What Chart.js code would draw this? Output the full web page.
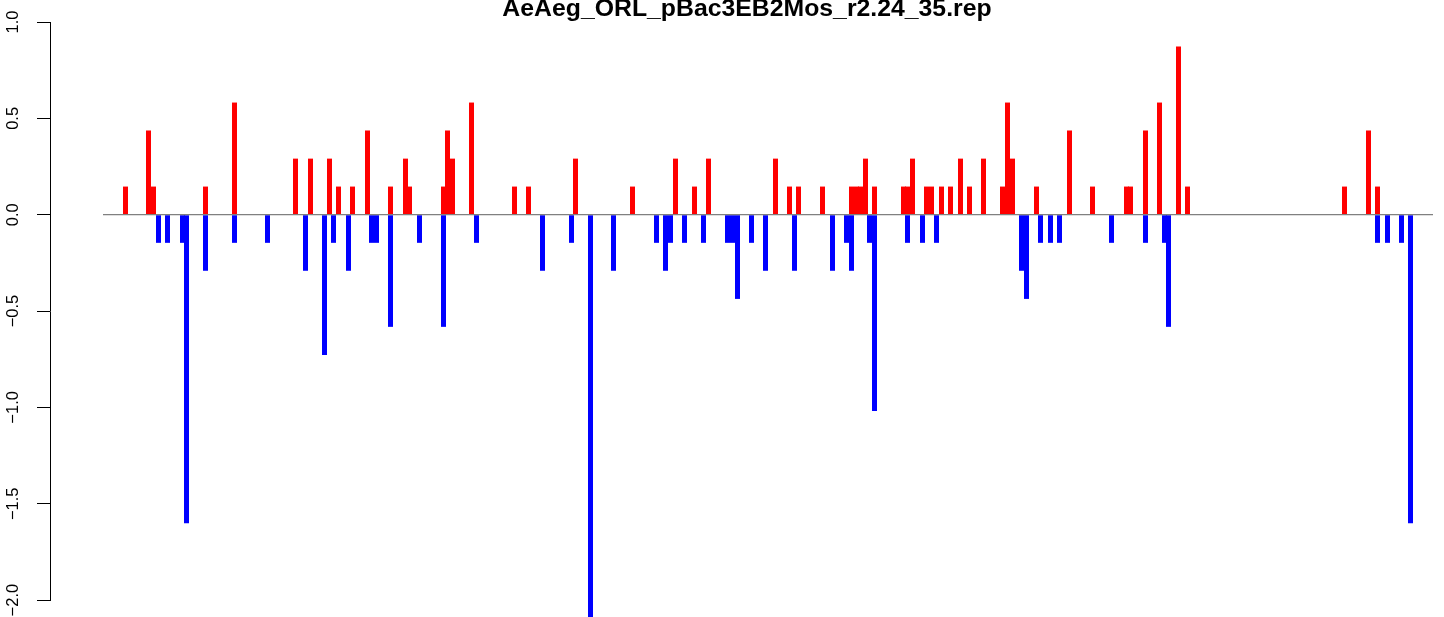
<!DOCTYPE html>
<html>
<head>
<meta charset="utf-8">
<title>AeAeg_ORL_pBac3EB2Mos_r2.24_35.rep</title>
<script src="https://cdn.jsdelivr.net/npm/chart.js@4.4.0/dist/chart.umd.min.js"></script>
<style>
    html, body { margin: 0; padding: 0; background: #fff; }
    canvas { display: block; }
</style>
</head>
<body>
<canvas id="repChart" width="1444" height="617"></canvas>
<script>
// Chart title
const chartTitle = 'AeAeg_ORL_pBac3EB2Mos_r2.24_35.rep';

// Positive scores (red) - position along the sequence and value
const redPositions = [22.5, 45.5, 50.5, 102.5, 131.5, 192.5, 207.5, 226.5, 235.5, 249.5,
    264.5, 287.5, 302.5, 306.5, 340.5, 344.5, 349.5, 368.5, 411.5, 425.5,
    472.5, 529.5, 572.5, 591.5, 605.5, 672.5, 686.5, 695.5, 719.5, 748.5,
    753.5, 757.5, 762.5, 771.5, 800.5, 804.5, 809.5, 823.5, 828.5, 838.5,
    847.5, 857.5, 866.5, 880.5, 899.5, 904.5, 909.5, 933.5, 966.5, 989.5,
    1023.5, 1027.5, 1042.5, 1056.5, 1075.5, 1084.5, 1241.5, 1265.5, 1274.5];
const redValues = [0.146, 0.437, 0.146, 0.146, 0.582, 0.291, 0.291, 0.291, 0.146, 0.146,
    0.437, 0.146, 0.291, 0.146, 0.146, 0.437, 0.291, 0.582, 0.146, 0.146,
    0.291, 0.146, 0.291, 0.146, 0.291, 0.291, 0.146, 0.146, 0.146, 0.146,
    0.146, 0.146, 0.291, 0.146, 0.146, 0.146, 0.291, 0.146, 0.146, 0.146,
    0.146, 0.291, 0.146, 0.291, 0.146, 0.582, 0.291, 0.146, 0.437, 0.146,
    0.146, 0.146, 0.437, 0.582, 0.873, 0.146, 0.146, 0.437, 0.146];

// Negative scores (blue)
const bluePositions = [55.5, 64.5, 79.5, 83.5, 102.5, 131.5, 164.5, 202.5, 221.5, 230.5,
    245.5, 268.5, 273.5, 287.5, 316.5, 340.5, 373.5, 439.5, 468.5, 487.5,
    510.5, 553.5, 562.5, 567.5, 581.5, 600.5, 624.5, 629.5, 634.5, 648.5,
    662.5, 691.5, 729.5, 743.5, 748.5, 766.5, 771.5, 804.5, 819.5, 833.5,
    918.5, 923.5, 937.5, 947.5, 956.5, 1008.5, 1042.5, 1061.5, 1065.5, 1274.5,
    1284.5, 1298.5, 1307.5];
const blueValues = [-0.146, -0.146, -0.146, -1.601, -0.291, -0.146, -0.146, -0.291, -0.728, -0.146,
    -0.291, -0.146, -0.146, -0.582, -0.146, -0.582, -0.146, -0.291, -0.146, -2.183,
    -0.291, -0.146, -0.291, -0.146, -0.146, -0.146, -0.146, -0.146, -0.437, -0.146,
    -0.291, -0.291, -0.291, -0.146, -0.291, -0.146, -1.019, -0.146, -0.146, -0.146,
    -0.291, -0.437, -0.146, -0.146, -0.146, -0.146, -0.146, -0.146, -0.582, -0.146,
    -0.146, -0.146, -1.601];

// Extent of the zero line along the sequence
const baselineRange = [0, 1330];

// Y axis ticks
const yTickValues = [-2, -1.5, -1, -0.5, 0, 0.5, 1];
const yTickLabels = ['\u22122.0', '\u22121.5', '\u22121.0', '\u22120.5', '0.0', '0.5', '1.0'];

const fontFamily = '"Liberation Sans", Arial, Helvetica, sans-serif';

function toPoints(xs, ys) {
    return xs.map((x, i) => ({ x: x, y: ys[i] }));
}

function createChart() {
    const ctx = document.getElementById('repChart').getContext('2d');

    // shared settings for the two bar series (thin R-style "h" bars)
    const barStyle = {
        type: 'bar',
        barThickness: 5,
        borderWidth: 0,
        inflateAmount: 0,
        stack: 'marks',
        clip: false,
        order: 1
    };

    new Chart(ctx, {
        type: 'bar',
        data: {
            datasets: [
                Object.assign({
                    label: 'positive',
                    data: toPoints(redPositions, redValues),
                    backgroundColor: '#ff0000'
                }, barStyle),
                Object.assign({
                    label: 'negative',
                    data: toPoints(bluePositions, blueValues),
                    backgroundColor: '#0000ff'
                }, barStyle),
                {
                    type: 'line',
                    label: 'zero',
                    data: baselineRange.map(x => ({ x: x, y: 0 })),
                    borderColor: '#808080',
                    borderWidth: 1.2,
                    pointRadius: 0,
                    order: 0
                }
            ]
        },
        options: {
            responsive: false,
            animation: false,
            layout: {
                padding: { left: 0, right: 0, top: 0, bottom: 13 }
            },
            plugins: {
                legend: { display: false },
                tooltip: { enabled: false },
                title: {
                    display: true,
                    fullSize: false, // centre over the plot area like R does
                    text: chartTitle,
                    color: '#000',
                    padding: { top: 0, bottom: 4.6 },
                    font: { family: fontFamily, size: 24.8, weight: 'bold', lineHeight: '17.4px' }
                }
            },
            scales: {
                x: {
                    type: 'linear',
                    min: -53,
                    max: 1341,
                    offset: false,
                    display: false
                },
                y: {
                    position: 'left',
                    min: -2,
                    max: 1,
                    stacked: false,
                    afterFit: function (axis) {
                        axis.width = 50;
                    },
                    afterBuildTicks: function (axis) {
                        axis.ticks = yTickValues.map(v => ({ value: v }));
                    },
                    ticks: {
                        autoSkip: false,
                        minRotation: 90,
                        maxRotation: 90,
                        crossAlign: 'center',
                        padding: 7,
                        color: '#000',
                        font: { family: fontFamily, size: 16.5 },
                        callback: function (value) {
                            return yTickLabels[yTickValues.indexOf(value)];
                        }
                    },
                    grid: {
                        drawOnChartArea: false,
                        drawTicks: true,
                        tickLength: 13,
                        color: '#000',
                        lineWidth: 1
                    },
                    border: { display: true, color: '#000', width: 1 }
                }
            }
        }
    });
}

createChart();
</script>
</body>
</html>
